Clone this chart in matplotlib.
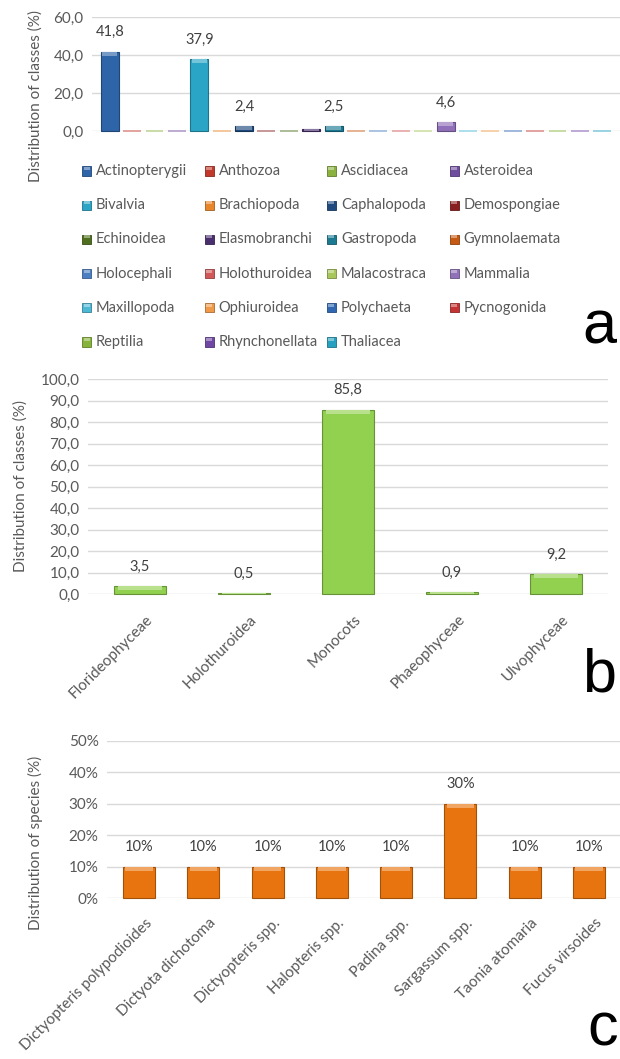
import matplotlib
matplotlib.use("Agg")
import matplotlib.pyplot as plt
import matplotlib.colors as mcolors
from matplotlib.patches import Rectangle
from matplotlib.transforms import ScaledTranslation
import numpy as np

# ---- data -------------------------------------------------------------
a_classes = [
    "Actinopterygii", "Anthozoa", "Ascidiacea", "Asteroidea",
    "Bivalvia", "Brachiopoda", "Caphalopoda", "Demospongiae",
    "Echinoidea", "Elasmobranchi", "Gastropoda", "Gymnolaemata",
    "Holocephali", "Holothuroidea", "Malacostraca", "Mammalia",
    "Maxillopoda", "Ophiuroidea", "Polychaeta", "Pycnogonida",
    "Reptilia", "Rhynchonellata", "Thaliacea",
]
a_values = [
    41.8, 0.0, 0.0, 0.0,
    37.9, 0.0, 2.4, 0.0,
    0.0, 0.9, 2.5, 0.0,
    0.0, 0.0, 0.0, 4.6,
    0.0, 0.0, 0.0, 0.0,
    0.0, 0.0, 0.0,
]
a_colors = [
    "#2E64A8", "#C0392B", "#8BB23F", "#6E4C9E",
    "#2BA5C6", "#E8862A", "#1F4A7E", "#8A1F1F",
    "#4F6F1F", "#4A2F6E", "#1B7A92", "#C65A12",
    "#4A7FC1", "#D05858", "#A8C65A", "#9070B8",
    "#4DB8D4", "#F09A48", "#2F67B0", "#C43434",
    "#86B43A", "#7048A4", "#25A0C0",
]
a_yticks = [0, 20, 40, 60]

b_classes = ["Florideophyceae", "Holothuroidea", "Monocots", "Phaeophyceae", "Ulvophyceae"]
b_values = [3.5, 0.5, 85.8, 0.9, 9.2]
b_yticks = [0, 10, 20, 30, 40, 50, 60, 70, 80, 90, 100]

c_species = [
    "Dictyopteris polypodioides", "Dictyota dichotoma", "Dictyopteris spp.",
    "Halopteris spp.", "Padina spp.", "Sargassum spp.", "Taonia atomaria",
    "Fucus virsoides",
]
c_values = [0.10, 0.10, 0.10, 0.10, 0.10, 0.30, 0.10, 0.10]
c_yticks = [0.0, 0.1, 0.2, 0.3, 0.4, 0.5]

# ---- style ------------------------------------------------------------
plt.rcParams["font.family"] = ["Lato", "DejaVu Sans"]
TICK_COLOR = "#595959"
LABEL_COLOR = "#404040"
GRID_COLOR = "#D9D9D9"

W, H = 620, 1059
fig = plt.figure(figsize=(W / 100, H / 100), dpi=100)


def fig_box(left, top, right, bottom):
    """Pixel box -> figure fraction rect."""
    return [left / W, 1 - bottom / H, (right - left) / W, (bottom - top) / H]


def shade(color, f):
    rgb = np.array(mcolors.to_rgb(color))
    if f > 0:
        return tuple(rgb + (1 - rgb) * f)
    return tuple(rgb * (1 + f))


def comma(v):
    return f"{v:.1f}".replace(".", ",")


def style_axes(ax, yticks, fmt):
    ax.set_ylim(yticks[0], yticks[-1])
    ax.set_yticks(yticks)
    ax.set_yticklabels([fmt(t) for t in yticks], color=TICK_COLOR, fontsize=11)
    ax.tick_params(axis="both", length=0, pad=6)
    for s in ax.spines.values():
        s.set_visible(False)
    ax.yaxis.grid(True, color=GRID_COLOR, linewidth=1.0)
    ax.set_axisbelow(True)


def bevel_bars(ax, x, vals, width, colors, px_per_unit):
    """Bars with darker edge and a lighter top cap, roughly like the Excel bevel."""
    vals = np.asarray(vals, dtype=float)
    for xi, v, c in zip(x, vals, colors):
        if v <= 0:
            ax.bar(xi, v, width, color=shade(c, 0.45), edgecolor=shade(c, 0.5),
                   linewidth=1.3, clip_on=False, zorder=3)
            continue
        ax.bar(xi, v, width, color=c, edgecolor=shade(c, -0.3),
               linewidth=0.8, clip_on=False, zorder=3)
        cap = min(v, 4.0 / px_per_unit)
        ax.bar(xi, cap, width * 0.86, bottom=v - cap, color=shade(c, 0.35),
               linewidth=0, clip_on=False, zorder=4)


def rotated_ticks(ax, labels):
    ax.set_xticks(np.arange(len(labels)))
    ax.set_xticklabels(labels, rotation=45, ha="right", va="top",
                       rotation_mode="anchor", fontsize=11, color=TICK_COLOR)
    ax.tick_params(axis="x", pad=13)
    # Excel puts the label end a little right of the category centre
    shift = ScaledTranslation(4 / 72, 0, fig.dpi_scale_trans)
    for t in ax.get_xticklabels():
        t.set_transform(t.get_transform() + shift)


# ---- panel a ----------------------------------------------------------
ax_a = fig.add_axes(fig_box(92, 17, 620, 131))
xa = np.arange(len(a_classes))
style_axes(ax_a, a_yticks, comma)
ax_a.set_xlim(-0.79, len(a_classes) - 0.21)
ax_a.set_xticks([])
bevel_bars(ax_a, xa, a_values, 0.8, a_colors, 114 / 60)
for xi, v in zip(xa, a_values):
    if v >= 1:
        ax_a.annotate(comma(v), (xi, v), xytext=(0, 9), textcoords="offset points",
                      ha="center", va="bottom", fontsize=10.5, color=LABEL_COLOR)

# legend, Excel style: row-major, equal column widths
for k, (name, c) in enumerate(zip(a_classes, a_colors)):
    row, col = divmod(k, 4)
    lx = 82 + col * 122.5
    ly = 171 + row * 34.2
    fig.patches.append(Rectangle((lx / W, 1 - (ly + 4.5) / H), 9 / W, 9 / H,
                                 transform=fig.transFigure, facecolor=c,
                                 edgecolor=shade(c, -0.3), linewidth=0.6))
    fig.patches.append(Rectangle(((lx + 1.5) / W, 1 - (ly - 1) / H), 6 / W, 3 / H,
                                 transform=fig.transFigure, facecolor=shade(c, 0.4),
                                 linewidth=0))
    fig.text((lx + 14) / W, 1 - ly / H, name, fontsize=10.5, color=TICK_COLOR,
             ha="left", va="center")

fig.text(36 / W, 1 - 96 / H, "Distribution of classes (%)", rotation=90,
         ha="center", va="center", fontsize=11, color=TICK_COLOR)
fig.text(616 / W, 1 - 343 / H, "a", fontsize=44, family="Liberation Sans",
         ha="right", va="baseline", color="black")

# ---- panel b ----------------------------------------------------------
ax_b = fig.add_axes(fig_box(88, 379, 608, 594))
xb = np.arange(len(b_classes))
style_axes(ax_b, b_yticks, comma)
ax_b.set_xlim(-0.5, len(b_classes) - 0.5)
bevel_bars(ax_b, xb, b_values, 0.5, ["#92D050"] * len(b_values), 215 / 100)
for xi, v in zip(xb, b_values):
    ax_b.annotate(comma(v), (xi, v), xytext=(0, 9), textcoords="offset points",
                  ha="center", va="bottom", fontsize=10.5, color=LABEL_COLOR)
rotated_ticks(ax_b, b_classes)

fig.text(21 / W, 1 - 486 / H, "Distribution of classes (%)", rotation=90,
         ha="center", va="center", fontsize=11, color=TICK_COLOR)
fig.text(616 / W, 1 - 692 / H, "b", fontsize=44, family="Liberation Sans",
         ha="right", va="baseline", color="black")

# ---- panel c ----------------------------------------------------------
ax_c = fig.add_axes(fig_box(107, 741, 621, 898))
xc = np.arange(len(c_species))
style_axes(ax_c, c_yticks, lambda t: f"{t * 100:.0f}%")
ax_c.set_xlim(-0.5, len(c_species) - 0.5)
bevel_bars(ax_c, xc, c_values, 0.5, ["#E8740F"] * len(c_values), 157 / 0.5)
for xi, v in zip(xc, c_values):
    ax_c.annotate(f"{v * 100:.0f}%", (xi, v), xytext=(0, 9), textcoords="offset points",
                  ha="center", va="bottom", fontsize=10.5, color=LABEL_COLOR)
rotated_ticks(ax_c, c_species)

fig.text(35 / W, 1 - 843 / H, "Distribution of species (%)", rotation=90,
         ha="center", va="center", fontsize=11, color=TICK_COLOR)
fig.text(618 / W, 1 - 1045 / H, "c", fontsize=44, family="Liberation Sans",
         ha="right", va="baseline", color="black")

fig.savefig("out.png", dpi=100)
